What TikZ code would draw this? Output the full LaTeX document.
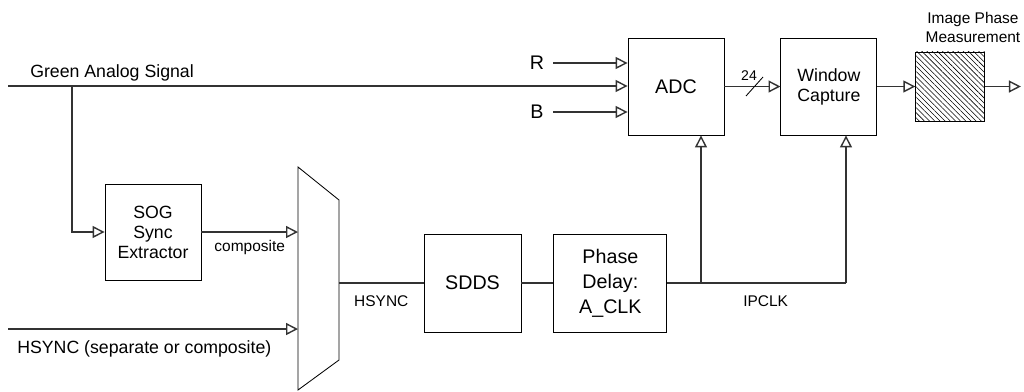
\documentclass[tikz,border=0pt]{standalone}
\usepackage{fontspec}
\setmainfont{Liberation Sans}
\usetikzlibrary{arrows.meta,positioning,calc,patterns.meta}

\begin{document}
\begin{tikzpicture}[x=0.025cm, y=-0.025cm,
    sig/.style={line width=1pt, draw=black!80},
    tip/.style={-{Triangle[open, length=8.5pt, width=8.5pt]}},
    blk/.style={draw, line width=0.6pt, rectangle, align=center, inner sep=0pt},
    big/.style={font=\fontsize{14}{17.8}\selectfont},
    mid/.style={font=\fontsize{12.6}{14.2}\selectfont},
    sml/.style={font=\fontsize{11}{13.5}\selectfont},
    lbl/.style={inner sep=0pt}]

    \useasboundingbox (0,0) rectangle (1024,391);

    % Converter and capture
    \node[blk, big, minimum width=2.4cm, minimum height=2.425cm] (adc) at (676,86.5) {ADC};
    \node[blk, mid, minimum width=2.4cm, minimum height=2.425cm, right=1.4cm of adc] (window) {Window\\Capture};
    \node[draw, line width=0.6pt, minimum size=1.725cm, right=0.95cm of window,
          pattern={Lines[angle=-45, distance=2.6pt, line width=0.4pt]}] (measure) {};
    \node[lbl, sml, align=center] (measurelbl) at (973,27) {Image Phase\\Measurement};

    % Sync path
    \node[blk, mid, minimum width=2.4cm, minimum height=2.4cm] (sog) at (153,232) {SOG\\Sync\\Extractor};
    \node[blk, big, minimum width=2.425cm, minimum height=2.45cm] (sdds) at (472.5,283) {SDDS};
    \node[blk, big, minimum width=2.825cm, minimum height=2.45cm, right=0.8cm of sdds] (phase) {Phase\\Delay:\\A\_CLK};

    % Multiplexer
    \draw[line width=0.6pt] (298,167) -- (339,200) -- (339,360) -- (298,390) -- cycle;
    \coordinate (muxa) at (298,232);
    \coordinate (muxb) at (298,329);
    \coordinate (muxout) at (339,283);

    % Inputs
    \coordinate (gin) at (8,86);
    \coordinate (gtap) at (72,86);
    \coordinate (hin) at (8,329);
    \node[lbl, mid, anchor=base west] (green) at (30,77) {Green Analog Signal};
    \node[lbl, mid, anchor=base west] (hsyncin) at (17,353) {HSYNC (separate or composite)};
    \node[lbl, big] (r) at (537,63) {R};
    \node[lbl, big] (b) at (537,112) {B};

    % Signals
    \draw[sig, tip] (gin) -- (adc.west |- gin);
    \draw[sig, tip] ([xshift=0.4cm]r.center) -- (adc.west |- r);
    \draw[sig, tip] ([xshift=0.4cm]b.center) -- (adc.west |- b);
    \draw[sig, tip] (gtap) |- (sog.west);
    \draw[sig, tip] (sog.east) -- (muxa) node[lbl, sml, midway, below=0.18cm] (comp) {composite};
    \draw[sig, tip] (hin) -- (muxb);
    \draw[sig] (muxout) -- (sdds.west) node[lbl, sml, midway, below=0.3cm] (hsync) {HSYNC};
    \draw[sig] (sdds.east) -- (phase.west);

    % Clock
    \coordinate (ck1) at (701,283);
    \coordinate (ck2) at (846,283);
    \draw[sig] (phase.east) -- (ck2) node[lbl, sml, pos=0.55, below=0.3cm] (ipclk) {IPCLK};
    \draw[sig, tip] (ck1) -- (ck1 |- adc.south);
    \draw[sig, tip] (ck2) -- (ck2 |- window.south);

    % Data out
    \draw[sig, tip] (adc.east) -- (window.west);
    \draw[line width=0.6pt] (746,96) -- (763,77);
    \node[lbl, font=\fontsize{10}{11}\selectfont] (bus) at (749,76) {24};
    \draw[sig, tip] (window.east) -- (measure.west);
    \draw[sig, tip] (measure.east) -- ++(0.9cm,0) coordinate (mout);

\end{tikzpicture}
\end{document}
